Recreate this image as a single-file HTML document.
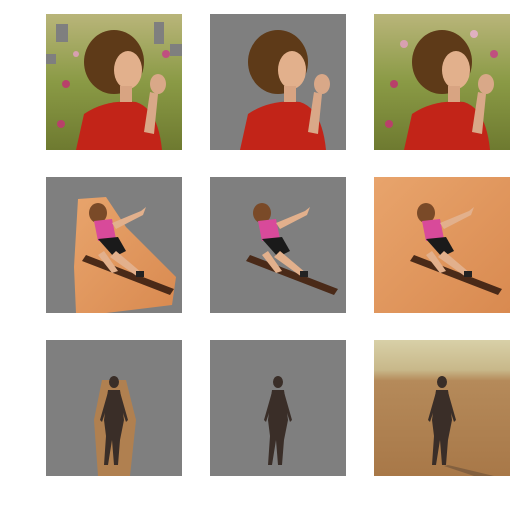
<!DOCTYPE html>
<html><head><meta charset="utf-8"><style>
html,body{margin:0;padding:0;background:#fff;width:520px;height:510px;overflow:hidden}
</style></head><body>
<svg width="520" height="510" viewBox="0 0 520 510">
<defs>
<linearGradient id="garden" x1="0" y1="0" x2="0" y2="1"><stop offset="0" stop-color="#b9b57a"/><stop offset="0.5" stop-color="#8a9a45"/><stop offset="1" stop-color="#6e7a30"/></linearGradient>
<linearGradient id="sand" x1="0" y1="0" x2="1" y2="1"><stop offset="0" stop-color="#e8a46c"/><stop offset="1" stop-color="#d98a50"/></linearGradient>
<linearGradient id="beach" x1="0" y1="0" x2="0" y2="1"><stop offset="0" stop-color="#d8d0a8"/><stop offset="0.22" stop-color="#c8b88a"/><stop offset="0.3" stop-color="#b58a5a"/><stop offset="1" stop-color="#a87848"/></linearGradient>
<g id="woman">
<path d="M30 136 L38 100 Q60 85 90 88 Q112 95 116 136 Z" fill="#c22418"/>
<ellipse cx="68" cy="48" rx="30" ry="32" fill="#5e3a18"/>
<ellipse cx="82" cy="56" rx="14" ry="19" fill="#e2b08c"/>
<rect x="74" y="72" width="12" height="16" fill="#d8a482"/>
<ellipse cx="112" cy="70" rx="8" ry="10" fill="#d9a888"/>
<path d="M104 78 L112 80 L108 120 L98 118 Z" fill="#d9a888"/>
</g>
<g id="boarder">
<path d="M40 78 L128 112 L124 118 L36 84 Z" fill="#4a2a18"/>
<ellipse cx="52" cy="36" rx="9" ry="10" fill="#7a4a28"/>
<path d="M48 44 L66 42 L70 62 L52 64 Z" fill="#d84a9a"/>
<path d="M66 46 L95 34 L100 30 L97 38 L70 52 Z" fill="#e2b08c"/>
<path d="M52 62 L72 60 L80 74 L68 80 Z" fill="#1a1a1a"/>
<path d="M70 74 L96 96 L92 100 L64 80 Z" fill="#e2b08c"/>
<path d="M58 74 L72 94 L66 96 L52 78 Z" fill="#e2b08c"/>
<rect x="90" y="94" width="8" height="6" fill="#222"/>
</g>
<g id="walker">
<ellipse cx="68" cy="42" rx="5" ry="6" fill="#3a2e28"/>
<path d="M62 50 L74 50 L78 80 L74 100 L72 125 L68 125 L66 100 L62 125 L58 125 L60 96 L58 80 Z" fill="#3a2e28"/>
<path d="M62 52 L54 80 L56 82 L64 58 Z M74 52 L82 80 L80 82 L72 58 Z" fill="#3a2e28"/>
</g>
</defs>

<!-- Row 1 -->
<g transform="translate(46,14)">
<rect width="136" height="136" fill="url(#garden)"/>
<circle cx="20" cy="70" r="4" fill="#b8406a"/><circle cx="15" cy="110" r="4" fill="#b8406a"/><circle cx="120" cy="40" r="4" fill="#c05080"/><circle cx="30" cy="40" r="3" fill="#d8a0b0"/>
<rect x="10" y="10" width="12" height="18" fill="#7f7f7f"/><rect x="0" y="40" width="10" height="10" fill="#7f7f7f"/><rect x="108" y="8" width="10" height="22" fill="#7f7f7f"/><rect x="124" y="30" width="12" height="12" fill="#7f7f7f"/>
<use href="#woman"/>
</g>
<g transform="translate(210,14)">
<rect width="136" height="136" fill="#7f7f7f"/><use href="#woman"/>
</g>
<g transform="translate(374,14)">
<rect width="136" height="136" fill="url(#garden)"/>
<circle cx="20" cy="70" r="4" fill="#b8406a"/><circle cx="15" cy="110" r="4" fill="#b8406a"/><circle cx="120" cy="40" r="4" fill="#c05080"/><circle cx="30" cy="30" r="4" fill="#d8a0b0"/><circle cx="100" cy="20" r="4" fill="#e0b0c0"/>
<use href="#woman"/>
</g>

<!-- Row 2 -->
<g transform="translate(46,177)">
<rect width="136" height="136" fill="#7f7f7f"/>
<path d="M32 22 L60 20 L80 50 L130 100 L126 128 L60 136 L30 136 L28 90 Z" fill="url(#sand)"/>
<use href="#boarder"/>
</g>
<g transform="translate(210,177)">
<rect width="136" height="136" fill="#7f7f7f"/><use href="#boarder"/>
</g>
<g transform="translate(374,177)">
<rect width="136" height="136" fill="url(#sand)"/><use href="#boarder"/>
</g>

<!-- Row 3 -->
<g transform="translate(46,340)">
<rect width="136" height="136" fill="#7f7f7f"/>
<path d="M56 40 L80 40 L90 80 L84 136 L52 136 L48 80 Z" fill="#b08050"/>
<use href="#walker"/>
</g>
<g transform="translate(210,340)">
<rect width="136" height="136" fill="#7f7f7f"/><use href="#walker"/>
</g>
<g transform="translate(374,340)">
<rect width="136" height="136" fill="url(#beach)"/><use href="#walker"/>
<path d="M74 125 L120 136 L100 136 L70 126 Z" fill="#6a5038" opacity="0.6"/>
</g>
</svg>
</body></html>
